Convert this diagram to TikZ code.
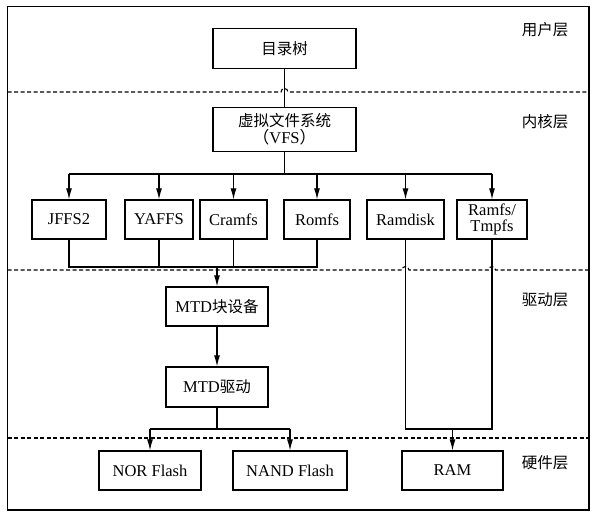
\documentclass[tikz,border=0pt]{standalone}
\usepackage{fontspec}
\setmainfont{Liberation Serif}
\newfontfamily\cjk{Noto Sans CJK SC}
\usetikzlibrary{arrows.meta}
\begin{document}
\begin{tikzpicture}[x=1pt,y=-1pt,
  box/.style={draw,line width=1.2pt,minimum height=39pt,inner sep=1pt,align=center,font=\fontsize{16.5}{18}\selectfont},
  conn/.style={line width=1.1pt},
  arr/.style={line width=1.1pt,-{Latex[length=11pt,width=6pt]}},
  layerdash/.style={line width=1.1pt,dash pattern=on 4pt off 2.5pt},
  lay/.style={font=\fontsize{15.5}{17}\selectfont\cjk}]
\useasboundingbox (0,0) rectangle (592,515);
\draw[line width=1.5pt] (7.5,6.5) rectangle (589,510);

% boxes
\node[box,minimum width=143pt,minimum height=40pt] (tree) at (284.5,48.5) {{\cjk\fontsize{15.5}{17}\selectfont 目录树}};
\node[box,minimum width=143pt,minimum height=44pt] (vfs) at (284.5,129.5) {{\cjk\fontsize{15.5}{17}\selectfont 虚拟文件系统}\\[-1pt]{\cjk （}VFS{\cjk ）}};
\node[box,minimum width=74pt] (jffs) at (69,219.5) {JFFS2};
\node[box,minimum width=68pt] (yaffs) at (159,219.5) {YAFFS};
\node[box,minimum width=67pt] (cramfs) at (233.5,219.5) {Cramfs};
\node[box,minimum width=66pt] (romfs) at (317,219.5) {Romfs};
\node[box,minimum width=77pt] (ramdisk) at (405.5,219.5) {Ramdisk};
\node[box,minimum width=70pt] (ramfs) at (492,219.5) {Ramfs/\\[-2pt]Tmpfs};
\node[box,minimum width=102pt] (mtdblk) at (217,306.5) {MTD{\cjk\fontsize{15.5}{17}\selectfont 块设备}};
\node[box,minimum width=102pt,minimum height=40pt] (mtddrv) at (217,387) {MTD{\cjk\fontsize{15.5}{17}\selectfont 驱动}};
\node[box,minimum width=102pt] (nor) at (150,470.5) {NOR Flash};
\node[box,minimum width=114pt] (nand) at (290,470.5) {NAND Flash};
\node[box,minimum width=101pt] (ram) at (452.5,470.5) {RAM};

% layer labels
\node[lay] (l1) at (545,30) {用户层};
\node[lay] (l2) at (545,122) {内核层};
\node[lay] (l3) at (545,300) {驱动层};
\node[lay] (l4) at (545,463) {硬件层};

% layer separators with hops
\coordinate (d1) at (0,92);
\coordinate (d2) at (0,270);
\coordinate (d3) at (0,438);
\draw[layerdash] (7.5,92) -- ([xshift=-3.5pt]tree.south |- d1) arc[start angle=180,end angle=0,radius=3.5pt] -- (589,92);
\draw[layerdash] (7.5,270) -- ([xshift=-3.5pt]ramdisk.south |- d2) arc[start angle=180,end angle=0,radius=3.5pt]
  -- ([xshift=-3.5pt]ramfs.south |- d2) arc[start angle=180,end angle=0,radius=3.5pt] -- (589,270);
\draw[layerdash] (7.5,438) -- (589,438);

% connectors
\coordinate (bus1) at (0,174);
\coordinate (bus2) at (0,267);
\coordinate (bus3) at (0,429);
\draw[conn] (tree.south) -- (vfs.north);
\draw[conn] (vfs.south) -- (vfs.south |- bus1);
\draw[conn] (jffs.north |- bus1) -- (ramfs.north |- bus1);
\foreach \n in {jffs,yaffs,cramfs,romfs,ramdisk,ramfs}
  \draw[arr] (\n.north |- bus1) -- (\n.north);
\draw[conn] (jffs.south) |- (romfs.south |- bus2) -- (romfs.south);
\draw[conn] (yaffs.south) -- (yaffs.south |- bus2);
\draw[conn] (cramfs.south) -- (cramfs.south |- bus2);
\draw[arr] (mtdblk.north |- bus2) -- (mtdblk.north);
\draw[arr] (mtdblk.south) -- (mtddrv.north);
\draw[conn] (mtddrv.south) -- (mtddrv.south |- bus3);
\draw[conn] (nor.north |- bus3) -- (nand.north |- bus3);
\draw[arr] (nor.north |- bus3) -- (nor.north);
\draw[arr] (nand.north |- bus3) -- (nand.north);
\draw[conn] (ramdisk.south) |- (ramfs.south |- bus3) -- (ramfs.south);
\draw[arr] (ram.north |- bus3) -- (ram.north);
\end{tikzpicture}
\end{document}
